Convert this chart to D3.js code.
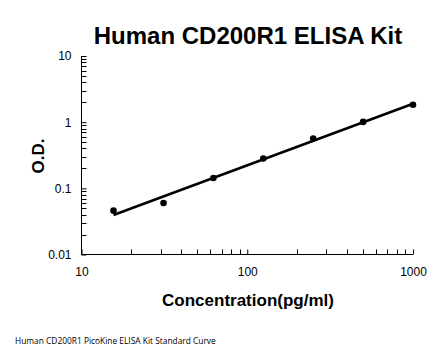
<!DOCTYPE html>
<html><head><meta charset="utf-8">
<script src="https://cdn.jsdelivr.net/npm/d3@7"></script>
<style>
html,body{margin:0;padding:0;background:#fff;}
svg{display:block;}
text{font-family:"Liberation Sans",Arial,sans-serif;fill:#000;}
</style></head>
<body><svg id="c" width="446" height="356"></svg>
<script>
const concentrations = [15.6, 31.25, 62.5, 125, 250, 500, 1000];
const odValues = [0.046, 0.060, 0.143, 0.282, 0.566, 1.01, 1.83];
const xTickLabels = [10, 100, 1000];
const yTickLabels = [0.01, 0.1, 1, 10];
const titleText = "Human CD200R1 ELISA Kit";
const xTitle = "Concentration(pg/ml)";
const yTitle = "O.D.";
const footer = "Human CD200R1 PicoKine ELISA Kit Standard Curve";

const svg = d3.select("#c");
const x = d3.scaleLog().domain([10, 1000]).range([81.5, 413]);
const y = d3.scaleLog().domain([0.01, 10]).range([254.5, 56]);

function minors(lo, hi) {
  const out = [];
  for (let d = lo; d < hi; d *= 10) for (let k = 2; k <= 9; k++) out.push(d * k);
  return out;
}

// y axis
const gy = svg.append("g").attr("transform", "translate(81.5,0)");
gy.call(d3.axisLeft(y).tickValues(yTickLabels).tickSize(-5).tickPadding(10)
  .tickFormat(d => String(d)));
gy.append("g").selectAll("line").data(minors(0.01, 10)).join("line")
  .attr("x1", 0).attr("x2", 5).attr("y1", d => Math.round(y(d)) + 0.5).attr("y2", d => Math.round(y(d)) + 0.5)
  .attr("stroke", "#000");
gy.select(".domain").attr("d", `M0,${y(10)}V${y(0.01)}`);

// x axis
const gx = svg.append("g").attr("transform", "translate(0,254.5)");
gx.call(d3.axisBottom(x).tickValues(xTickLabels).tickSize(-5).tickPadding(13)
  .tickFormat(d => String(d)));
gx.append("g").selectAll("line").data(minors(10, 1000)).join("line")
  .attr("y1", 0).attr("y2", -5).attr("x1", d => Math.round(x(d)) + 0.5).attr("x2", d => Math.round(x(d)) + 0.5)
  .attr("stroke", "#000");
gx.select(".domain").attr("d", `M${x(10)},0H${x(1000)}`);

[gx, gy].forEach(g => {
  g.selectAll("text").style("font-size", "12px").style("font-family", "'Liberation Sans',Arial,sans-serif");
  g.selectAll("path,line").attr("stroke", "#000").attr("stroke-width", 1);
});

// regression line (log-log)
const lx = concentrations.map(Math.log10), ly = odValues.map(Math.log10);
const mx = d3.mean(lx), my = d3.mean(ly);
const slope = d3.sum(lx.map((v, i) => (v - mx) * (ly[i] - my))) / d3.sum(lx.map(v => (v - mx) ** 2));
const icpt = my - slope * mx;
const fitX = [concentrations[0], concentrations[concentrations.length - 1]];
svg.append("path")
  .attr("d", d3.line().x(d => x(d)).y(d => y(Math.pow(10, icpt + slope * Math.log10(d))))(fitX))
  .attr("stroke", "#000").attr("stroke-width", 2.5).attr("fill", "none");

svg.append("g").selectAll("circle").data(concentrations).join("circle")
  .attr("cx", d => x(d)).attr("cy", (d, i) => y(odValues[i])).attr("r", 3.3).attr("fill", "#000");

svg.append("text").attr("x", 248).attr("y", 44).attr("text-anchor", "middle")
  .style("font-size", "24px").style("font-weight", "bold").text(titleText);
svg.append("text").attr("x", 248).attr("y", 306).attr("text-anchor", "middle")
  .style("font-size", "17px").style("font-weight", "bold").text(xTitle);
svg.append("text").attr("transform", "translate(44,156) rotate(-90)").attr("text-anchor", "middle")
  .style("font-size", "17px").style("font-weight", "bold").text(yTitle);
svg.append("text").attr("x", 15).attr("y", 344)
  .style("font-size", "8.4px").style("font-family", "'Open Sans',sans-serif").text(footer);
</script></body></html>
